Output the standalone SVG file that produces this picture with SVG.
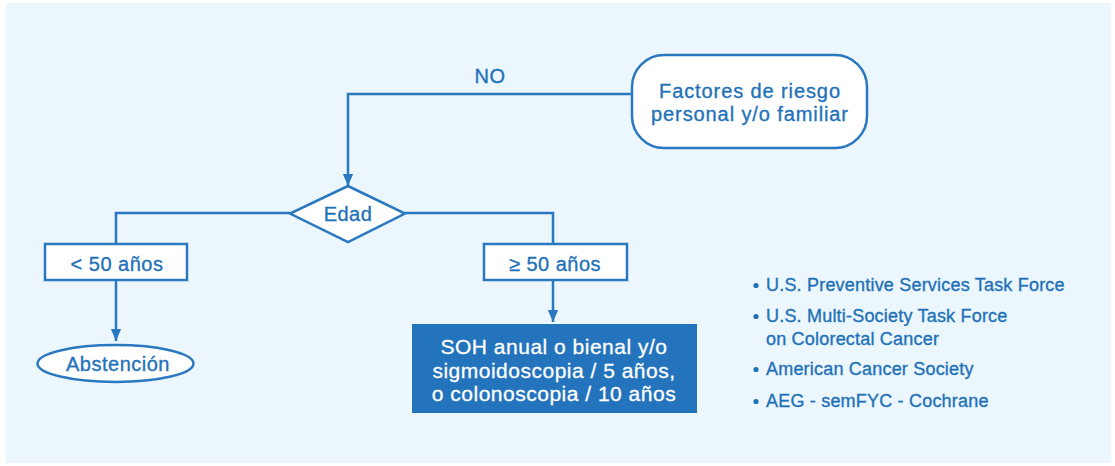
<svg xmlns="http://www.w3.org/2000/svg" width="1115" height="466" viewBox="0 0 1115 466">
<style>
text{font-family:"Liberation Sans",Arial,sans-serif;fill:#1f72b8;text-anchor:middle;stroke:#1f72b8;stroke-width:0.35}
.node{fill:#fff;stroke:#2a78c0;stroke-width:2.5}
.conn{fill:none;stroke:#2a78c0;stroke-width:2.5}
.t16{font-size:20px;letter-spacing:0.5px}
.wide{letter-spacing:0.9px}
.w{fill:#fff;stroke:#fff;stroke-width:0.3;font-size:21px;letter-spacing:0.5px}
.ref{font-size:18px;letter-spacing:0.2px;text-anchor:start}
</style>
<defs>
<marker id="arr" markerWidth="12" markerHeight="16" refX="14" refY="6" orient="auto" markerUnits="userSpaceOnUse" viewBox="0 0 14 12">
<path d="M0,0 L14,6 L0,12 Z" fill="#2a78c0"/>
</marker>
</defs>
<rect x="6" y="3" width="1105" height="460" fill="#ebf6fd"/>
<g id="connectors">
<path class="conn" d="M632,94 H348 V186" marker-end="url(#arr)"/>
<path class="conn" d="M290,213 H116 V244"/>
<path class="conn" d="M405,213 H553 V244"/>
<path class="conn" d="M116,280 V341" marker-end="url(#arr)"/>
<path class="conn" d="M553,280 V322" marker-end="url(#arr)"/>
<text x="490" y="83" class="t16">NO</text>
</g>
<g id="factores">
<rect class="node" x="632" y="55" width="235" height="93" rx="32"/>
<text x="750" y="98" class="t16 wide">Factores de riesgo</text>
<text x="750" y="121" class="t16 wide">personal y/o familiar</text>
</g>
<g id="edad">
<path class="node" d="M348,186 L405,213.5 L348,242 L290,213.5 Z"/>
<text x="348" y="221" class="t16">Edad</text>
</g>
<g id="menor50">
<rect class="node" x="45" y="244" width="142" height="36"/>
<text x="117" y="271" class="t16">&lt; 50 años</text>
</g>
<g id="mayor50">
<rect class="node" x="484" y="244" width="143" height="36"/>
<text x="555" y="271" class="t16">≥ 50 años</text>
</g>
<g id="abstencion">
<ellipse class="node" cx="115.5" cy="363.5" rx="78" ry="18.5"/>
<text x="118" y="371" class="t16">Abstención</text>
</g>
<g id="soh">
<rect x="412" y="324" width="285" height="89" fill="#2474bd"/>
<text x="554" y="354" class="w">SOH anual o bienal y/o</text>
<text x="554" y="378" class="w">sigmoidoscopia / 5 años,</text>
<text x="554" y="401" class="w">o colonoscopia / 10 años</text>
</g>
<g id="referencias">
<circle cx="756" cy="285.5" r="2.6" fill="#1f72b8"/>
<text x="766" y="291" class="ref">U.S. Preventive Services Task Force</text>
<circle cx="756" cy="316.5" r="2.6" fill="#1f72b8"/>
<text x="766" y="322" class="ref">U.S. Multi-Society Task Force</text>
<text x="766" y="345" class="ref">on Colorectal Cancer</text>
<circle cx="756" cy="369.5" r="2.6" fill="#1f72b8"/>
<text x="766" y="375" class="ref">American Cancer Society</text>
<circle cx="756" cy="401.5" r="2.6" fill="#1f72b8"/>
<text x="766" y="407" class="ref">AEG - semFYC - Cochrane</text>
</g>
</svg>
